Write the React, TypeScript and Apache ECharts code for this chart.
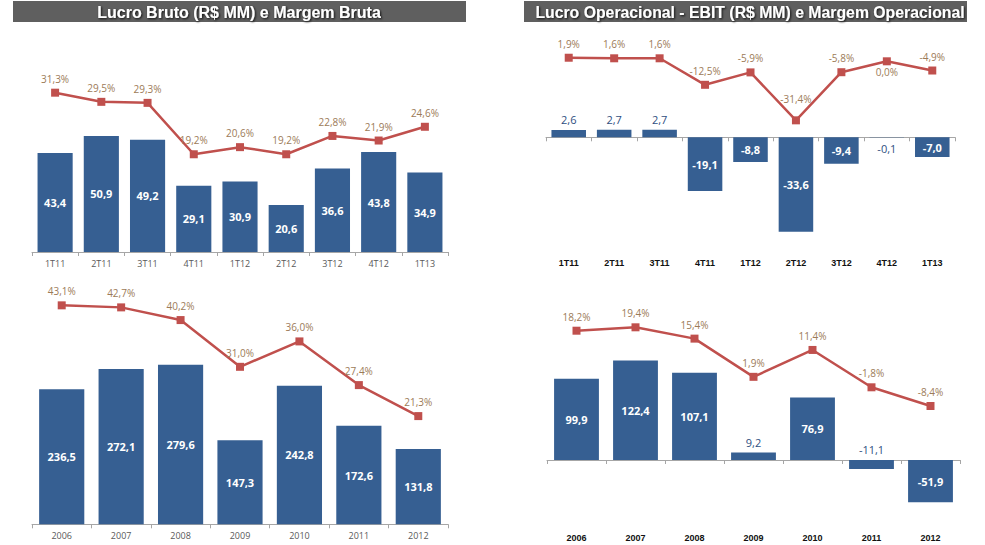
import React, { useEffect, useRef } from 'react';
import * as echarts from 'echarts';

const trimestres = ['1T11', '2T11', '3T11', '4T11', '1T12', '2T12', '3T12', '4T12', '1T13'];
const lucroBrutoTri = [43.4, 50.9, 49.2, 29.1, 30.9, 20.6, 36.6, 43.8, 34.9];
const margemBrutaTri = [31.3, 29.5, 29.3, 19.2, 20.6, 19.2, 22.8, 21.9, 24.6];
const ebitTri = [2.6, 2.7, 2.7, -19.1, -8.8, -33.6, -9.4, -0.1, -7.0];
const margemOpTri = [1.9, 1.6, 1.6, -12.5, -5.9, -31.4, -5.8, 0.0, -4.9];

const anos = ['2006', '2007', '2008', '2009', '2010', '2011', '2012'];
const lucroBrutoAnual = [236.5, 272.1, 279.6, 147.3, 242.8, 172.6, 131.8];
const margemBrutaAnual = [43.1, 42.7, 40.2, 31.0, 36.0, 27.4, 21.3];
const ebitAnual = [99.9, 122.4, 107.1, 9.2, 76.9, -11.1, -51.9];
const margemOpAnual = [18.2, 19.4, 15.4, 1.9, 11.4, -1.8, -8.4];

const tituloEsq = 'Lucro Bruto (R$ MM) e Margem Bruta';
const tituloDir = 'Lucro Operacional - EBIT (R$ MM) e Margem Operacional';

const BAR = '#365f92';
const LINE = '#c0504d';
const PCT = '#9c7b58';
const OUT = '#2f4f7f';
const FONT = '"Open Sans", sans-serif';

const fmt = (v: number) => v.toFixed(1).replace('.', ',');

const barLabel = {
  show: true,
  position: 'inside',
  color: '#fff',
  fontWeight: 'bold',
  fontSize: 11,
  fontFamily: FONT,
  formatter: (p: any) => fmt(p.value),
};

const lineLabel = {
  show: true,
  position: 'top',
  distance: 5,
  color: PCT,
  fontSize: 10,
  fontFamily: FONT,
  formatter: (p: any) => fmt(p.value) + '%',
};

function barItems(vals: number[], smallLimit: number) {
  return vals.map((v) => {
    if (Math.abs(v) >= smallLimit) return v;
    return {
      value: v,
      label: {
        position: v < 0 && v > -1 ? 'bottom' : 'top',
        color: OUT,
        fontWeight: 'normal',
        distance: 5,
      },
    };
  });
}

function lineItems(vals: number[], below: number[], far: number[]) {
  return vals.map((v, i) => {
    if (below.includes(i)) return { value: v, label: { position: 'bottom', distance: 2 } };
    if (far.includes(i)) return { value: v, label: { distance: 12 } };
    return v;
  });
}

function lineSeries(xi: number, yi: number, data: any[]) {
  return {
    type: 'line',
    xAxisIndex: xi,
    yAxisIndex: yi,
    data,
    symbol: 'rect',
    symbolSize: 8,
    lineStyle: { color: LINE, width: 2.5 },
    itemStyle: { color: LINE },
    label: lineLabel,
    z: 5,
  };
}

function barSeries(xi: number, yi: number, data: any[]) {
  return {
    type: 'bar',
    xAxisIndex: xi,
    yAxisIndex: yi,
    data,
    barWidth: '76%',
    itemStyle: { color: BAR },
    label: barLabel,
    z: 2,
  };
}

const grayAxis = (grid: number, cats: string[]) => ({
  type: 'category',
  gridIndex: grid,
  data: cats,
  position: 'bottom',
  axisLine: { show: true, lineStyle: { color: '#a6a6a6', width: 1 } },
  axisTick: { show: true, length: 4, lineStyle: { color: '#a6a6a6' } },
  axisLabel: { color: '#595959', fontSize: 9, fontFamily: FONT, margin: 7 },
});

const labelAxis = (grid: number, cats: string[]) => ({
  type: 'category',
  gridIndex: grid,
  data: cats,
  position: 'bottom',
  axisLine: { show: false, onZero: false },
  axisTick: { show: false },
  axisLabel: {
    color: '#111',
    fontSize: 9,
    fontWeight: 'bold',
    fontFamily: '"Liberation Sans", Arial, sans-serif',
    margin: 8,
  },
});

const zeroAxis = (grid: number, cats: string[], yIdx: number) => ({
  type: 'category',
  gridIndex: grid,
  data: cats,
  position: 'bottom',
  axisLine: { show: true, onZero: true, onZeroAxisIndex: yIdx, lineStyle: { color: '#a6a6a6', width: 1 } },
  axisTick: { show: true, length: 4, lineStyle: { color: '#a6a6a6' } },
  axisLabel: { show: false },
});

const yAx = (grid: number, min: number, max: number) => ({
  type: 'value',
  gridIndex: grid,
  min,
  max,
  show: false,
  splitLine: { show: false },
});

const titleText = (x: number, text: string, size: number) => ({
  type: 'text',
  x,
  y: 12,
  style: {
    text,
    fill: '#ffffff',
    font: `bold ${size}px "Liberation Sans", Arial, sans-serif`,
    align: 'center',
    verticalAlign: 'middle',
    textAlign: 'center',
    textVerticalAlign: 'middle',
    textShadowColor: 'rgba(0,0,0,0.85)',
    textShadowBlur: 2,
    textShadowOffsetX: 1,
    textShadowOffsetY: 1,
  },
  z: 10,
});

export default function App() {
  const ref = useRef<HTMLDivElement>(null);
  useEffect(() => {
    const chart = echarts.init(ref.current!, null, { renderer: 'svg' });
    const option: any = {
      animation: false,
      backgroundColor: '#ffffff',
      grid: [
        { left: 32, top: 60, width: 416, height: 192 },
        { left: 546, top: 30, width: 409, height: 220 },
        { left: 32, top: 290, width: 416, height: 234.3 },
        { left: 547, top: 300, width: 413, height: 225 },
      ],
      xAxis: [
        grayAxis(0, trimestres),
        labelAxis(1, trimestres),
        zeroAxis(1, trimestres, 2),
        grayAxis(2, anos),
        labelAxis(3, anos),
        zeroAxis(3, anos, 6),
      ],
      yAxis: [
        yAx(0, 0, 84.2),
        yAx(0, 0, 37.72),
        yAx(1, -40.11, 38.19),
        yAx(1, -100.37, 16.65),
        yAx(2, 0, 410.3),
        yAx(2, 0, 46.12),
        yAx(3, -79.85, 196.6),
        yAx(3, -50.46, 29.05),
      ],
      series: [
        barSeries(0, 0, lucroBrutoTri),
        lineSeries(0, 1, margemBrutaTri),
        barSeries(1, 2, barItems(ebitTri, 5)),
        lineSeries(1, 3, lineItems(margemOpTri, [7], [5])),
        barSeries(3, 4, lucroBrutoAnual),
        lineSeries(3, 5, margemBrutaAnual),
        barSeries(4, 6, barItems(ebitAnual, 15)),
        lineSeries(4, 7, lineItems(margemOpAnual, [], [])),
      ],
      graphic: [
        { type: 'rect', shape: { x: 13, y: 1, width: 453, height: 21 }, style: { fill: '#5f5f5f' }, z: 9 },
        titleText(239, tituloEsq, 16),
        { type: 'rect', shape: { x: 524, y: 1, width: 443, height: 21 }, style: { fill: '#5f5f5f' }, z: 9 },
        titleText(750, tituloDir, 15.8),
      ],
    };
    chart.setOption(option);
    return () => chart.dispose();
  }, []);
  return (
    <div
      ref={ref}
      style={{ position: 'fixed', left: 0, top: 0, width: 985, height: 545, background: '#fff' }}
    />
  );
}
